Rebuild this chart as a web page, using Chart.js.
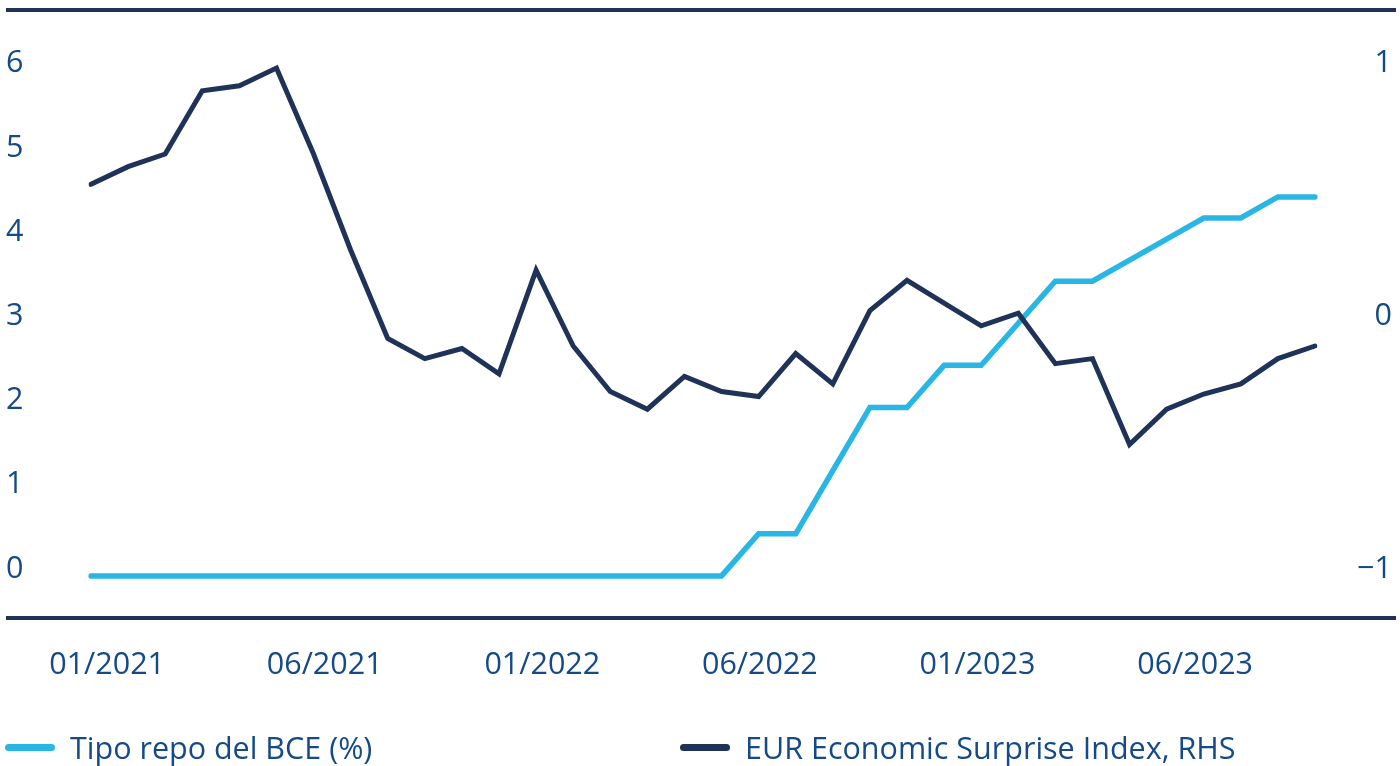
<!DOCTYPE html>
<html>
<head>
<meta charset="utf-8">
<script src="https://cdn.jsdelivr.net/npm/chart.js@4.4.1/dist/chart.umd.min.js"></script>
<style>
  body { margin: 0; background: #fff; }
  #wrap { position: relative; width: 1400px; height: 766px; }
  .legend { position: absolute; top: 727px; height: 40px; line-height: 40px; display: flex; align-items: center;
            font-family: "Open Sans", sans-serif; font-size: 30.5px; color: #144a87; white-space: nowrap; }
  .swatch { width: 50px; height: 7px; border-radius: 4px; margin-right: 15px; }
</style>
</head>
<body>
<div id="wrap">
  <canvas id="chart"></canvas>
  <div class="legend" style="left:5px"><span class="swatch" style="background:#29b6e4"></span>Tipo repo del BCE (%)</div>
  <div class="legend" style="left:680px"><span class="swatch" style="background:#1f3359"></span>EUR Economic Surprise Index, RHS</div>
</div>
<script>
// monthly, 01/2021 .. 10/2023
const months = [
  '01/2021','02/2021','03/2021','04/2021','05/2021','06/2021','07/2021','08/2021','09/2021','10/2021','11/2021','12/2021',
  '01/2022','02/2022','03/2022','04/2022','05/2022','06/2022','07/2022','08/2022','09/2022','10/2022','11/2022','12/2022',
  '01/2023','02/2023','03/2023','04/2023','05/2023','06/2023','07/2023','08/2023','09/2023','10/2023'
];
const repoRate = [
  0, 0, 0, 0, 0, 0, 0, 0, 0, 0, 0, 0,
  0, 0, 0, 0, 0, 0, 0.5, 0.5, 1.25, 2.0, 2.0, 2.5,
  2.5, 3.0, 3.5, 3.5, 3.75, 4.0, 4.25, 4.25, 4.5, 4.5
];
const surprise = [
  0.55, 0.62, 0.67, 0.92, 0.94, 1.01, 0.67, 0.29, -0.06, -0.14, -0.10, -0.20,
  0.21, -0.09, -0.27, -0.34, -0.21, -0.27, -0.29, -0.12, -0.24, 0.05, 0.17, 0.08,
  -0.01, 0.04, -0.16, -0.14, -0.48, -0.34, -0.28, -0.24, -0.14, -0.09
];
const xTickLabels = ['01/2021', '06/2021', '01/2022', '06/2022', '01/2023', '06/2023'];
const leftTicks = [0, 1, 2, 3, 4, 5, 6];
const rightTicks = [-1, 0, 1];

const NAVY = '#1f3359';
const CYAN = '#29b6e4';
const TEXT = '#144a87';
const FONT = { family: '"Open Sans", sans-serif', size: 30.5 };

const leftMin = -0.5, leftMax = 6.72;

const rules = {
  id: 'rules',
  beforeDraw(chart) {
    const { ctx, chartArea } = chart;
    ctx.save();
    ctx.strokeStyle = NAVY;
    ctx.lineWidth = 4;
    [chartArea.top, chartArea.bottom].forEach(y => {
      ctx.beginPath();
      ctx.moveTo(6, y);
      ctx.lineTo(1396, y);
      ctx.stroke();
    });
    ctx.restore();
  }
};

// drop the extra room chart.js keeps for the end labels
const noPad = s => { s.paddingTop = 0; s.paddingBottom = 0; s.paddingLeft = 0; s.paddingRight = 0; };

new Chart(document.getElementById('chart'), {
  type: 'line',
  data: {
    labels: months,
    datasets: [
      {
        label: 'EUR Economic Surprise Index, RHS',
        data: surprise,
        yAxisID: 'y1',
        borderColor: NAVY,
        borderWidth: 5,
        pointRadius: 0,
        borderCapStyle: 'round',
        borderJoinStyle: 'miter',
        tension: 0,
        order: 0
      },
      {
        label: 'Tipo repo del BCE (%)',
        data: repoRate,
        yAxisID: 'y',
        borderColor: CYAN,
        borderWidth: 5.5,
        pointRadius: 0,
        borderCapStyle: 'round',
        borderJoinStyle: 'miter',
        tension: 0,
        order: 1
      }
    ]
  },
  options: {
    responsive: true,
    maintainAspectRatio: false,
    animation: false,
    layout: { padding: { left: 6, right: 8, top: 10, bottom: 0 } },
    plugins: { legend: { display: false }, tooltip: { enabled: false } },
    scales: {
      x: { type: 'category', display: false },
      x2: {
        type: 'linear',
        position: 'bottom',
        min: -0.074,
        max: 5.551,
        grid: { display: false },
        border: { display: false },
        afterBuildTicks: s => { s.ticks = xTickLabels.map((_, i) => ({ value: i })); },
        afterFit: s => { s.height = 148; noPad(s); },
        ticks: {
          padding: 21,
          maxRotation: 0,
          autoSkip: false,
          color: TEXT,
          font: FONT,
          callback: v => xTickLabels[v]
        }
      },
      y: {
        position: 'left',
        min: leftMin,
        max: leftMax,
        grid: { display: false },
        border: { display: false },
        afterBuildTicks: s => { s.ticks = leftTicks.map(v => ({ value: v })); },
        afterFit: s => { s.width = 85; noPad(s); },
        ticks: { crossAlign: 'far', labelOffset: -7, color: TEXT, font: FONT }
      },
      y1: {
        position: 'right',
        min: leftMin / 3 - 1,
        max: leftMax / 3 - 1,
        grid: { display: false },
        border: { display: false },
        afterBuildTicks: s => { s.ticks = rightTicks.map(v => ({ value: v })); },
        afterFit: s => { s.width = 77; noPad(s); },
        ticks: {
          crossAlign: 'far',
          labelOffset: -7,
          color: TEXT,
          font: FONT,
          callback: v => (v < 0 ? '\u2212' + Math.abs(v) : String(v))
        }
      }
    }
  },
  plugins: [rules]
});
</script>
</body>
</html>
